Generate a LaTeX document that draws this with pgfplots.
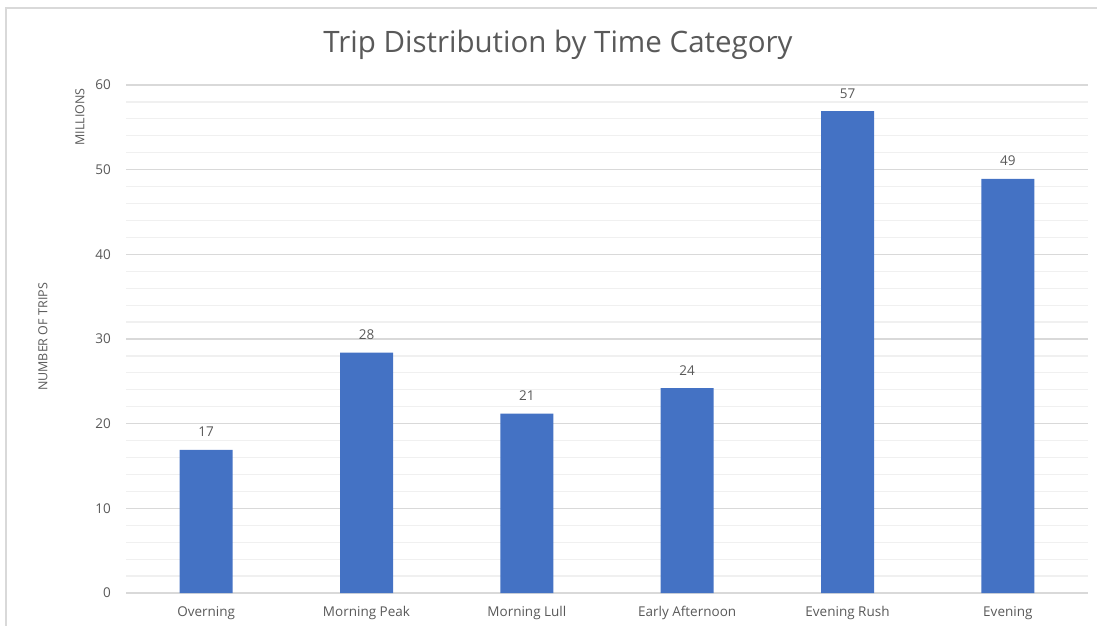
\documentclass[border=0pt]{standalone}
\usepackage{pgfplots}
\pgfplotsset{compat=1.18}
\usepackage{fontspec}
\setmainfont{Open Sans}
\definecolor{barblue}{HTML}{4472C4}
\definecolor{txtgray}{HTML}{595959}
\definecolor{majgrid}{HTML}{D9D9D9}
\definecolor{mingrid}{HTML}{F0F0F0}

\begin{document}
\begin{tikzpicture}[x=1pt,y=1pt]
\clip (0,0) rectangle (1097,625);
\path[use as bounding box] (0,0) rectangle (1097,625);
% chart frame
\draw[majgrid, line width=1.5pt] (6,-20) -- (6,617) -- (1120,617);

\node[txtgray, font=\fontsize{29.5}{34}\selectfont] at (558,580) {Trip Distribution by Time Category};
\node[txtgray, rotate=90, font=\fontsize{12.5}{15}\selectfont] at (43,288) {NUMBER OF TRIPS};
\node[txtgray, rotate=90, font=\fontsize{12.5}{15}\selectfont] at (80,508) {MILLIONS};

\begin{axis}[
  at={(126pt,32pt)}, anchor=south west,
  width=962pt, height=508pt, scale only axis,
  xmin=-0.5, xmax=5.5, ymin=0, ymax=60,
  axis line style={draw=none},
  xtick={0,1,2,3,4,5},
  xticklabels={Overning, Morning Peak, Morning Lull, Early Afternoon, Evening Rush, Evening},
  ytick={0,10,20,30,40,50,60},
  minor ytick={2,4,6,8,12,14,16,18,22,24,26,28,32,34,36,38,42,44,46,48,52,54,56,58},
  ymajorgrids, yminorgrids,
  major grid style={majgrid, line width=1.5pt},
  minor grid style={mingrid, line width=1.2pt},
  major tick length=0pt, minor tick length=0pt,
  /pgf/number format/assume math mode=true,
  ticklabel style={txtgray, font=\fontsize{13.5}{16}\selectfont},
  yticklabel style={anchor=east, inner sep=0pt, xshift=-15pt},
  xticklabel style={anchor=base, inner sep=0pt, yshift=-23pt},
  ybar, bar width=53pt,
  nodes near coords,
  nodes near coords style={txtgray, font=\fontsize{13.5}{16}\selectfont, anchor=base, inner sep=0pt, yshift=13pt,
    /pgf/number format/.cd, fixed, precision=0, assume math mode=true},
]
\addplot[fill=barblue, draw=none] coordinates {
  (0,16.9) (1,28.4) (2,21.2) (3,24.2) (4,56.9) (5,48.9)
};
\end{axis}
\end{tikzpicture}
\end{document}
